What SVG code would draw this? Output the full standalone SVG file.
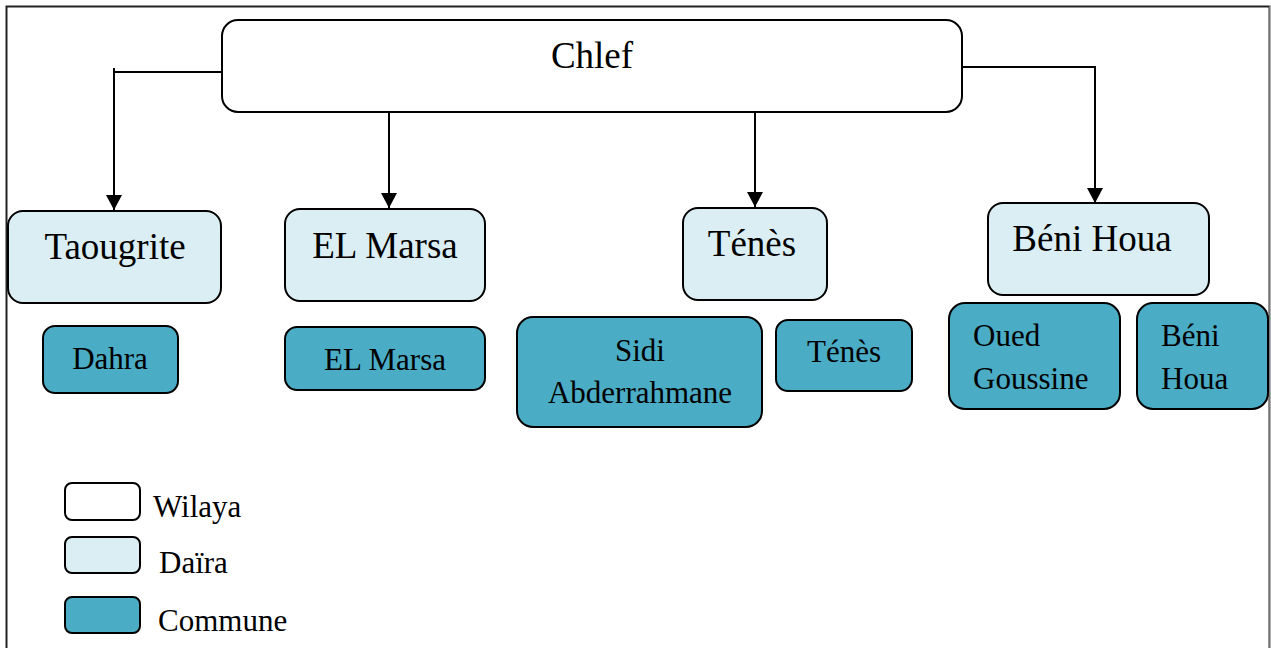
<svg xmlns="http://www.w3.org/2000/svg" width="1271" height="648" viewBox="0 0 1271 648">
<defs>
<style>
text{font-family:"Liberation Serif","Times New Roman",serif;fill:#000}
.w{fill:#fff;stroke:#000;stroke-width:2}
.d{fill:#DAEEF3;stroke:#000;stroke-width:2}
.c{fill:#4BACC6;stroke:#000;stroke-width:2}
.big{font-size:37px}
.sm{font-size:31px}
.mid{text-anchor:middle}
.conn{fill:none;stroke:#000;stroke-width:2}
</style>
<marker id="ah" viewBox="0 0 15 16" refX="15" refY="8" markerWidth="15" markerHeight="16" markerUnits="userSpaceOnUse" orient="auto">
<path d="M0,0 L15,8 L0,16 Z" fill="#000"/>
</marker>
</defs>
<rect x="0" y="0" width="1271" height="648" fill="#fff"/>
<path d="M6.5,648 V6.5 H1269.5 V648" fill="none" stroke="#222" stroke-width="2"/>
<path d="M1270,6 V648" stroke="#ccc" stroke-width="1"/>

<g id="connectors">
<path class="conn" d="M222,72 H114 V210" marker-end="url(#ah)"/>
<path class="conn" d="M114,72 V68"/>
<path class="conn" d="M389,112 V208" marker-end="url(#ah)"/>
<path class="conn" d="M755,112 V207" marker-end="url(#ah)"/>
<path class="conn" d="M962,67 H1095 V203" marker-end="url(#ah)"/>
</g>

<g id="chlef"><rect class="w" x="222" y="20" width="740" height="92" rx="16"/><text class="big mid" x="592" y="68">Chlef</text></g>

<g id="taougrite"><rect class="d" x="8" y="211" width="213" height="92" rx="15"/><text class="big mid" x="115" y="259">Taougrite</text></g>
<g id="elmarsa-daira"><rect class="d" x="285" y="209" width="200" height="92" rx="15"/><text class="big mid" x="385" y="258">EL Marsa</text></g>
<g id="tenes-daira"><rect class="d" x="683" y="208" width="144" height="92" rx="15"/><text class="big mid" x="752" y="256">Ténès</text></g>
<g id="benihoua-daira"><rect class="d" x="988" y="203" width="221" height="92" rx="15"/><text class="big mid" x="1092" y="251">Béni Houa</text></g>

<g id="dahra"><rect class="c" x="43" y="326" width="135" height="67" rx="12"/><text class="sm mid" x="110" y="369">Dahra</text></g>
<g id="elmarsa-commune"><rect class="c" x="285" y="327" width="200" height="63" rx="12"/><text class="sm mid" x="385" y="370">EL Marsa</text></g>
<g id="sidi"><rect class="c" x="517" y="317" width="245" height="110" rx="16"/><text class="sm mid" x="640" y="361">Sidi</text><text class="sm mid" x="640" y="403">Abderrahmane</text></g>
<g id="tenes-commune"><rect class="c" x="776" y="320" width="136" height="71" rx="12"/><text class="sm mid" x="844" y="362">Ténès</text></g>
<g id="oued"><rect class="c" x="949" y="303" width="171" height="106" rx="16"/><text class="sm" x="973" y="346">Oued</text><text class="sm" x="973" y="389">Goussine</text></g>
<g id="benihoua-commune"><rect class="c" x="1137" y="303" width="131" height="106" rx="16"/><text class="sm" x="1161" y="346">Béni</text><text class="sm" x="1161" y="389">Houa</text></g>

<g id="legend">
<rect class="w" x="65" y="483" width="75" height="37" rx="7"/><text class="sm" x="153" y="517">Wilaya</text>
<rect class="d" x="65" y="537" width="75" height="36" rx="7"/><text class="sm" x="159" y="573">Daïra</text>
<rect class="c" x="65" y="597" width="75" height="36" rx="7"/><text class="sm" x="158" y="631">Commune</text>
</g>
</svg>
